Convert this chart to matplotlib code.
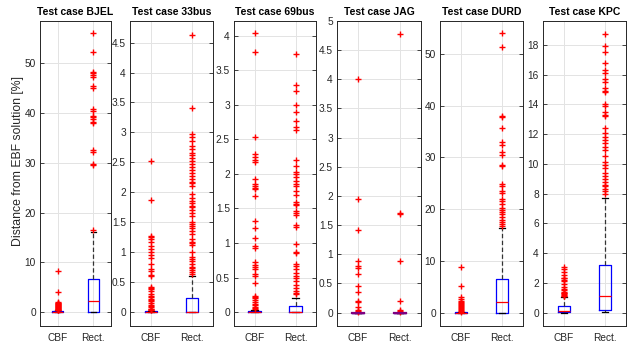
import numpy as np
import matplotlib.pyplot as plt

plt.rcParams['font.family'] = ['Liberation Sans', 'DejaVu Sans']

cases = ["BJEL", "33bus", "69bus", "JAG", "DURD", "KPC"]
methods = ["CBF", "Rect."]

# box statistics per case: (q1, median, q3, lower whisker, upper whisker)
cbf_stats = [
    (0.0, 0.02, 0.15, 0.0, 0.35),
    (0.0, 0.003, 0.012, 0.0, 0.025),
    (0.0, 0.003, 0.015, 0.0, 0.035),
    (0.0, 0.0, 0.0, 0.0, 0.0),
    (0.0, 0.005, 0.05, 0.0, 0.12),
    (0.02, 0.1, 0.45, 0.0, 1.05),
]
rect_stats = [
    (0.0, 2.2, 6.6, 0.0, 16.0),
    (0.0, 0.008, 0.245, 0.0, 0.61),
    (0.0, 0.0, 0.09, 0.0, 0.21),
    (0.0, 0.0, 0.0, 0.0, 0.0),
    (0.0, 2.0, 6.5, 0.0, 16.3),
    (0.15, 1.1, 3.2, 0.02, 7.7),
]

cbf_outliers = [
    [8.3, 4.1, 2.0, 1.9, 1.8, 1.7, 1.6, 1.5, 1.4, 1.3, 1.2, 1.1, 1.0, 0.9,
     0.8, 0.7, 0.6, 0.5, 0.45, 0.4],
    [2.53, 1.87, 1.27, 1.25, 1.22, 1.17, 1.1, 1.05, 1.0, 0.95, 0.9, 0.8,
     0.72, 0.68, 0.62, 0.6, 0.42, 0.4, 0.38, 0.35, 0.3, 0.27, 0.25, 0.22,
     0.2, 0.18, 0.15, 0.12, 0.1, 0.08, 0.06, 0.05, 0.04, 0.03],
    [4.03, 3.76, 2.53, 2.28, 2.25, 2.2, 2.17, 1.93, 1.85, 1.82, 1.8, 1.78,
     1.68, 1.32, 1.22, 1.07, 0.95, 0.93, 0.72, 0.68, 0.65, 0.62, 0.55, 0.52,
     0.42, 0.24, 0.22, 0.2, 0.18, 0.15, 0.12, 0.1, 0.08, 0.06, 0.05],
    [4.0, 1.94, 1.42, 0.89, 0.8, 0.77, 0.66, 0.45, 0.36, 0.2, 0.19, 0.1,
     0.05, 0.02, 0.01],
    [8.8, 5.2, 3.1, 2.6, 2.3, 2.0, 1.8, 1.6, 1.4, 1.2, 1.0, 0.8, 0.6, 0.4,
     0.3, 0.2],
    [3.05, 2.9, 2.75, 2.5, 2.35, 2.3, 2.2, 2.1, 1.9, 1.7, 1.6, 1.5, 1.4,
     1.35, 1.3, 1.25, 1.2, 1.15, 1.1],
]
rect_outliers = [
    [56.0, 52.2, 48.3, 48.0, 47.6, 47.2, 45.5, 45.0, 40.9, 40.5, 39.5, 39.2,
     38.8, 38.3, 38.0, 32.5, 32.2, 29.8, 29.6, 16.5],
    [4.63, 3.4, 2.98, 2.92, 2.85, 2.78, 2.72, 2.65, 2.62, 2.58, 2.52, 2.48,
     2.42, 2.38, 2.32, 2.28, 2.22, 2.18, 2.15, 2.1, 1.97, 1.9, 1.85, 1.82,
     1.78, 1.75, 1.7, 1.65, 1.6, 1.5, 1.47, 1.44, 1.4, 1.35, 1.3, 1.23, 1.18,
     1.15, 1.12, 1.0, 0.92, 0.88, 0.85, 0.8, 0.76, 0.73, 0.7, 0.67, 0.64],
    [3.73, 3.28, 3.2, 3.0, 2.9, 2.77, 2.68, 2.63, 2.2, 2.12, 2.03, 2.0, 1.95,
     1.9, 1.86, 1.82, 1.75, 1.7, 1.6, 1.57, 1.55, 1.47, 1.43, 1.41, 1.26,
     1.23, 0.98, 0.87, 0.85, 0.7, 0.67, 0.62, 0.57, 0.53, 0.5, 0.45, 0.4,
     0.35, 0.3, 0.28, 0.26],
    [4.77, 1.71, 1.69, 0.88, 0.2, 0.05, 0.03, 0.01],
    [54.0, 51.3, 38.0, 37.8, 35.7, 33.0, 32.5, 31.0, 30.5, 28.6, 28.4, 24.8,
     24.5, 23.5, 23.2, 22.0, 21.5, 21.0, 20.3, 19.8, 19.5, 19.0, 18.5, 18.0,
     17.6, 17.2, 16.8],
    [18.7, 17.9, 17.5, 16.8, 16.3, 16.1, 15.7, 15.5, 15.1, 14.9, 14.8, 14.0,
     13.9, 13.5, 13.3, 13.2, 12.4, 12.1, 11.8, 11.6, 11.4, 11.1, 10.9, 10.5,
     10.1, 9.9, 9.7, 9.4, 9.2, 9.0, 8.8, 8.6, 8.5, 8.3, 8.2, 8.0],
]

y_limits = [(-2.8, 58.5), (-0.23, 4.86), (-0.2, 4.21), (-0.23, 5.0),
            (-2.6, 56.4), (-0.9, 19.6)]
y_ticks = [np.arange(0, 51, 10), np.arange(0, 4.6, 0.5), np.arange(0, 4.1, 0.5),
           np.arange(0, 5.1, 0.5), np.arange(0, 51, 10), np.arange(0, 19, 2)]

# axes extents in pixels (left, right)
W, H = 634, 346
panel_x = [(40, 111), (130, 213), (234, 316), (337, 421), (440, 523), (543, 626)]
top, bottom = 21, 326

text_col = "#262626"


def make_stats(s, fl, label):
    q1, med, q3, lo, hi = s
    return dict(q1=q1, med=med, q3=q3, whislo=lo, whishi=hi,
                fliers=np.array(fl), label=label)


def fmt(v):
    return "%g" % round(v, 2)


fig = plt.figure(figsize=(W / 100, H / 100), dpi=100)

for i, case in enumerate(cases):
    x0, x1 = panel_x[i]
    ax = fig.add_axes([x0 / W, 1 - bottom / H, (x1 - x0) / W, (bottom - top) / H])
    stats = [make_stats(cbf_stats[i], cbf_outliers[i], methods[0]),
             make_stats(rect_stats[i], rect_outliers[i], methods[1])]
    flat = [s["q1"] == s["q3"] for s in stats]
    ax.bxp(stats, positions=[1, 2], widths=0.3, showfliers=True,
           boxprops=dict(color="blue", lw=0.9),
           medianprops=dict(color="red", lw=0.9),
           whiskerprops=dict(color="#333333", lw=0.9, ls=(0, (3.5, 2))),
           capprops=dict(color="black", lw=0.9),
           flierprops=dict(marker="+", markeredgecolor="red", markersize=4.5,
                           markeredgewidth=1.0, ls="none"),
           capwidths=0.15, manage_ticks=False)
    # zero-height boxes: median and box edges overlap
    for j, f in enumerate(flat):
        if f:
            ax.plot([j + 1 - 0.15, j + 1 + 0.15], [stats[j]["med"]] * 2,
                    color="#7f007f", lw=1.6, zorder=3)
    ax.set_xlim(0.5, 2.5)
    ax.set_ylim(*y_limits[i])
    ax.set_xticks([1, 2])
    ax.set_xticklabels(methods, fontsize=7.3, color=text_col)
    ax.set_yticks(y_ticks[i])
    ax.set_yticklabels([fmt(v) for v in y_ticks[i]], fontsize=7.3, color=text_col)
    ax.tick_params(direction="in", length=3, width=0.6, right=True, top=False,
                   colors=text_col, pad=3)
    ax.tick_params(axis="x", length=0, pad=5)
    ax.grid(True, color="#e3e3e3", lw=0.7)
    ax.set_axisbelow(True)
    for sp in ax.spines.values():
        sp.set_color(text_col)
        sp.set_linewidth(0.7)
    ax.set_title("Test case " + case, fontsize=7.5, fontweight="bold", pad=4)
    if i == 0:
        ax.set_ylabel("Distance from EBF solution [%]", fontsize=8.8,
                      color=text_col)
        ax.yaxis.set_label_coords(-0.225, 0.54)

fig.savefig("out.png", dpi=100)
